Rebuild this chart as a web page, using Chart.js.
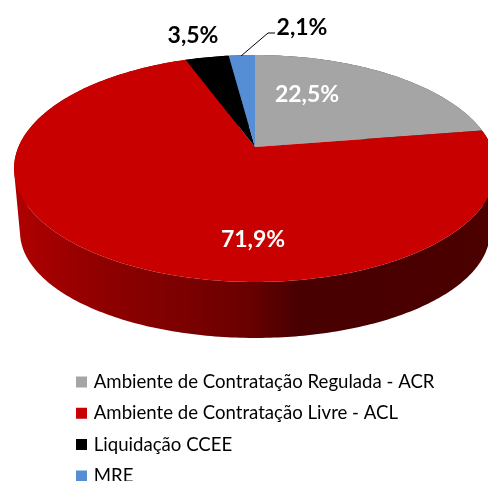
<!DOCTYPE html>
<html>
<head>
<meta charset="utf-8">
<title>Ambiente de contratação</title>
<script src="https://cdn.jsdelivr.net/npm/chart.js@4"></script>
<style>
    html, body { margin: 0; padding: 0; background: #fff; overflow: hidden; }
    canvas { display: block; }
</style>
</head>
<body>
<canvas id="wykres" width="488" height="481"></canvas>
<script>
const categorias = [
    "Ambiente de Contratação Regulada - ACR",
    "Ambiente de Contratação Livre - ACL",
    "Liquidação CCEE",
    "MRE"
];
const valores = [22.5, 71.9, 3.5, 2.1];
const cores = ["#A5A5A5", "#C80000", "#000000", "#558ED5"];
const FONTE = "Lato, Carlito, sans-serif";

// pie seen in perspective: the apex is not the centre of the ellipse
const INCLINACAO = -0.1894;
const TOPO = { cx: 255, cy: 147, a: 109.4, b: 236.6 };
const BASE = { cx: 255, cy: 212, a: 102.1, b: 230.7 };

// side wall shading, by x position
const sombra = [[0, 0.88], [0.18, 0.72], [0.39, 0.6], [0.5, 0.52], [0.6, 0.36], [1, 0.38]];

// label placement and colour, same order as the values
const rotulos = [
    { x: 307, y: 94.5, cor: "#fff" },
    { x: 253, y: 240, cor: "#fff" },
    { x: 193, y: 35.5, cor: "#000" },
    { x: 302, y: 27.5, cor: "#000" }
];

function projetar(angulo, m) {
    const d = 1 + INCLINACAO * Math.sin(angulo);
    return {
        x: m.cx + m.b * Math.cos(angulo) / d,
        y: m.cy + m.a * Math.sin(angulo) / d
    };
}

function amostras(arco) {
    const n = Math.max(2, Math.ceil((arco.endAngle - arco.startAngle) / 0.015));
    const lista = [];
    for (let i = 0; i <= n; i++) {
        lista.push(arco.startAngle + (arco.endAngle - arco.startAngle) * i / n);
    }
    return lista;
}

function gradienteLateral(ctx, cor) {
    const r = parseInt(cor.slice(1, 3), 16);
    const g = parseInt(cor.slice(3, 5), 16);
    const b = parseInt(cor.slice(5, 7), 16);
    const grad = ctx.createLinearGradient(14, 0, 488, 0);
    sombra.forEach(([pos, f]) => {
        grad.addColorStop(pos, `rgb(${r * f},${g * f},${b * f})`);
    });
    return grad;
}

function desenharLateral(ctx, arco, cor) {
    const angulos = amostras(arco);
    ctx.beginPath();
    for (let i = 0; i < angulos.length - 1; i++) {
        let q = [
            projetar(angulos[i], TOPO),
            projetar(angulos[i + 1], TOPO),
            projetar(angulos[i + 1], BASE),
            projetar(angulos[i], BASE)
        ];
        let area = 0;
        for (let j = 0; j < 4; j++) {
            const p1 = q[j], p2 = q[(j + 1) % 4];
            area += p1.x * p2.y - p2.x * p1.y;
        }
        if (area < 0) q = q.reverse();
        ctx.moveTo(q[0].x, q[0].y);
        ctx.lineTo(q[1].x, q[1].y);
        ctx.lineTo(q[2].x, q[2].y);
        ctx.lineTo(q[3].x, q[3].y);
        ctx.closePath();
    }
    ctx.fillStyle = gradienteLateral(ctx, cor);
    ctx.fill();
}

function desenharTopo(ctx, arco, cor) {
    ctx.beginPath();
    ctx.moveTo(TOPO.cx, TOPO.cy);
    amostras(arco).forEach(a => {
        const p = projetar(a, TOPO);
        ctx.lineTo(p.x, p.y);
    });
    ctx.closePath();
    ctx.fillStyle = cor;
    ctx.fill();
}

const pizza3d = {
    id: "pizza3d",
    afterLayout(chart) {
        // stacked legend under the pie
        const legenda = chart.legend;
        legenda.left = 65.8;
        legenda.right = 488;
        legenda.top = 360;
        legenda.bottom = 520;
    },
    beforeDatasetDraw(chart, args) {
        const ctx = chart.ctx;
        const arcos = args.meta.data;
        ctx.save();
        arcos.forEach((arco, i) => desenharLateral(ctx, arco, cores[i]));
        arcos.forEach((arco, i) => desenharTopo(ctx, arco, cores[i]));
        ctx.restore();
        return false;
    },
    afterDatasetsDraw(chart) {
        const ctx = chart.ctx;
        ctx.save();
        // leader line of the smallest slice
        ctx.strokeStyle = "#000";
        ctx.lineWidth = 1;
        ctx.beginPath();
        ctx.moveTo(241, 56);
        ctx.lineTo(268, 33);
        ctx.lineTo(275, 33);
        ctx.stroke();

        ctx.font = "bold 23px " + FONTE;
        ctx.textAlign = "center";
        ctx.textBaseline = "middle";
        valores.forEach((v, i) => {
            ctx.fillStyle = rotulos[i].cor;
            ctx.fillText(v.toFixed(1).replace(".", ",") + "%", rotulos[i].x, rotulos[i].y);
        });
        ctx.restore();
    }
};

new Chart(document.getElementById("wykres"), {
    type: "pie",
    data: {
        labels: categorias,
        datasets: [{ data: valores, backgroundColor: cores, borderWidth: 0 }]
    },
    options: {
        responsive: false,
        animation: false,
        plugins: {
            tooltip: { enabled: false },
            legend: {
                position: "left",
                align: "start",
                labels: {
                    boxWidth: 6,
                    boxHeight: 6,
                    padding: 12.7,
                    color: "#000",
                    font: { family: FONTE, size: 18.6 },
                    generateLabels(chart) {
                        return categorias.map((nome, i) => ({
                            text: nome,
                            fillStyle: cores[i],
                            strokeStyle: cores[i],
                            lineWidth: 5,
                            index: i
                        }));
                    }
                }
            }
        }
    },
    plugins: [pizza3d]
});
</script>
</body>
</html>
